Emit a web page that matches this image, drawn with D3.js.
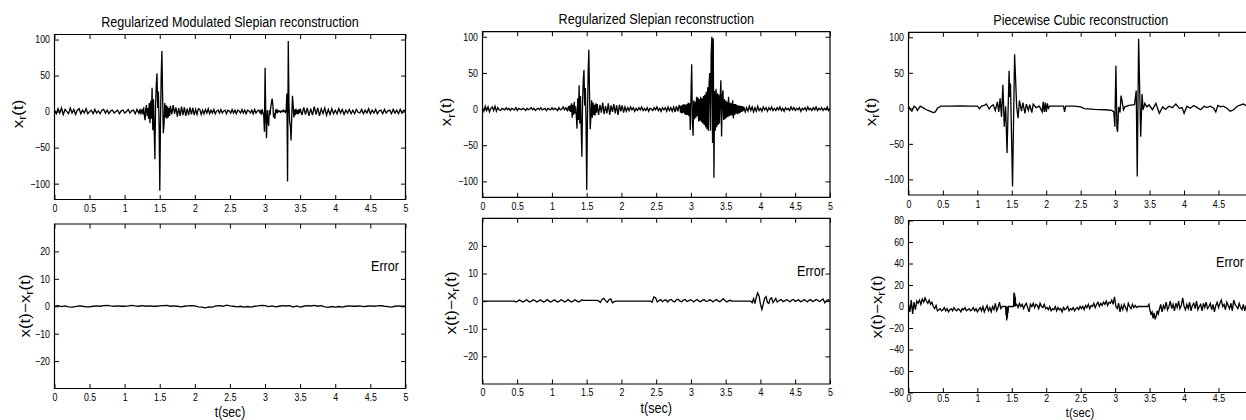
<!DOCTYPE html>
<html><head><meta charset="utf-8">
<script src="https://cdn.jsdelivr.net/npm/d3@7"></script>
<style>
html,body{margin:0;padding:0;background:#fff;overflow:hidden}
svg{display:block;overflow:hidden}
</style></head><body>
<svg id="chart" width="1246" height="420"></svg>
<script>
// ---------------- DATA ----------------
// Segment series: [startTime, step, [values...]]
const timeDomain = [0, 5];
const xTicks = [0, 0.5, 1, 1.5, 2, 2.5, 3, 3.5, 4, 4.5, 5];
const yTicksRec = [-100, -50, 0, 50, 100];
const yTicksErrSmall = [-20, -10, 0, 10, 20];
const yTicksErrCubic = [-80, -60, -40, -20, 0, 20, 40, 60, 80];

const titles = ["Regularized Modulated Slepian reconstruction", "Regularized Slepian reconstruction", "Piecewise Cubic reconstruction"];

const recModSlepian = [
  [0, 0.025, [2,-3,4,-2,5,-4,3,0,-3,5,-2,3,-4,2,4,-3,2,-2,4,-3,0,2,-3,3,-2,1,-3,2,3,-2,2,-3,1,2,-2,0,2,-3,1,2,-2,0,3,-2,1,2,-3,3,-2]],
  [1.21, 0.01, [1,-2,2,-1,3,-4,6,-5,-12,4,9,-6,5,-10,12,-16,15,-10,33,-26,17,-24,-66,10,38,53,5,28,-20,-110,-10,50,84,20,-30,-18,12,-8,9,-10,7,-8,5,-6,8]],
  [1.67, 0.02, [-4,9,-3,6,-7,5,-6,7,-5,6,-6,4,-5,6,-4,5,-5,3,-4,4,3,-4,2,-3,3,-2,4,-3,2,-2,3,-3,1,2,-2,3,-2,1,2,-3,2,1,-2,3,-2,2,-3,2,1,-2,3,-2,2,-3,2,1,-2,2,-3,3,-2,1,2,-2]],
  [2.94, 0.01, [1,-2,3,-2,-5,-28,61,-10,-37,2,-12,-20,2,-5,6,12,18,10,-8,-2,-10,3,-2,2,-1,1,0,1,-1,0,1,0,2,0,1,-1,2,25,-97,98,10,-15,-20,-40,-5,22,8,-8,3,-5,4,-3,2,-4,3,-2,4]],
  [3.525, 0.025, [-5,6,-4,5,-6,4,-5,7,-4,5,-6,4,-3,5,-5,3,-4,4,-3,2,-3,4,-2,3,-4,2,-2,3,-3,2,-3,3,-1,-2,3,-3,2,-2,4,-3,2,-2,3,-3,1,2,-3,3,-2,1,2,-3,3,-2,2,-3,3,-2,2,0]]
];

const errModSlepian = [
  [0, 0.05, [0,0.2,-0.1,0.1,-0.2,-0.3,-0.1,0.1,0,-0.2,-0.2,0,0.1,0,0.2,0.3,0.1,0,0.1,0,0,0.1,0.3,0.1,0,0.2,0,0.1,0,0,0.1,0.2,0.3,0,0.1,0,-0.2,0,0.1,0.2,0.1,-0.2,-0.3,-0.6,-0.2,-0.3,0.1,0.2,0,0.4,0.1,0,-0.2,0,-0.3,-0.1,-0.3,0,0.1,0.3,0.2,-0.1,0.1,-0.2,0,0.2,0.1,0.2,-0.3,0.1,-0.3,0,0.2,0.1,0.3,0,0.2,-0.2,-0.4,-0.1,-0.3,-0.1,-0.3,0,0.1,0,0,0.1,-0.1,0,0.1,0,0.1,0.2,0,-0.1,-0.3,0,0.1,0,0]]
];

const recSlepian = [
  [0, 0.02, [2,-3,4,-2,3,-4,1,3,-2,4,-3,2,-1,-2,1,0,-1,2,-1,1,-2,1,0,-1,2,-2,1,0,-1,1,0,-2,1,-1,0,2,-1,1,-2,0,1,-1,2,-1,0,1,-2,1,0,-1,2,-1,1,0,-2,2,-1,0,3,-1,2,-2,4]],
  [1.25, 0.01, [-3,5,-4,8,-12,6,-8,10,-6,4,-10,-27,15,-15,33,-20,18,-25,-66,10,40,54,5,29,-20,-112,-10,50,82,20,-28,-10,12,-12,9,-8,6,-9,8,-5,7]],
  [1.67, 0.02, [-8,6,-5,9,-7,4,-6,8,-8,5,-4,7,-6,5,-8,6,-3,5,-5,3,-3,2,-2,3,-1,2,-3,1,-2,2,-1,3,-2,1,-2,2,-3,1,0,-2,2,-1,3,-2,1,-3,2,-1,2,-3,3,-2,2,-3,3,-4,4,-3,5]],
  [2.84, 0.01, [4,-5,5,-6,6,-5,7,-7,6,-8,7,-8,9,-10,8,-29,20,62,-15,-37,12,-14,10,-12,17,-10,16,-17,14,-16,17,-18,15,-20,18,-22,20,-25,24,-28,30,-30,35,50,-30,75,100,-47,98,-95,25,-30,28,-25,22,-22,20,-20,15,40,-38,18,26,-15,14,-14,12,-12,10,-11,17,-10,9,-9,8,-9,12,-13,7,-8,7,-6,6,-7,5,-6,5,-5,4,-4,4,-3]],
  [3.76, 0.02, [3,-4,2,-3,4,-2,3,-4,2,-3,4,-2,1,-3,3,-1,2,-3,2,-1,3,-2,1,-2,2,-1,3,-2,1,-3,2,-1,1,-2,3,-1,2,-2,1,-1,2,-3,1,-1,2,-2,3,-1,1,-2,2,-1,3,-2,1,-1,2,-2,1,-1,3,-2,1]]
];

const errSlepian = [
  [0, 0.46, [0,0]],
  [0.48, 0.025, [-0.3,0,0.4,0.1,-0.3,0,0.5,0.1,-0.3,0,0.5,0.2,-0.3,0,0.5,0.1,-0.3,0,0.6,0.1,-0.3,0,0.5,0.1,-0.3,0,0.5,0.2,-0.3,0,0.6,0.1,-0.3,0,0.5,0.1,-0.3,0,0.5,0.3]],
  [1.47, 0.18, [0.3,0.3]],
  [1.67, 0.025, [0.1,-0.5,0.6,1.0,0.2,-0.4,0.5,0.8,-0.6,-0.2]],
  [1.92, 0.5, [0,0]],
  [2.44, 0.025, [-0.4,1.5,1.2,-0.3,0.2,0.6,-0.2,0.3,0.5,-0.3,0.4,0.6,0,-0.3,0.5,0.7,0,-0.2,0.4,0.6,-0.1,0.1,0.5,0.2,-0.3,0.3,0.6,0,-0.2,0.4,0.5,-0.1,0,0.5,0.3,-0.3,0.2,0.6,0.1,-0.2,0.3,0.9,0.2,-0.3,0.1,0.3,0]],
  [3.62, 0.23, [0,0]],
  [3.86, 0.02, [0,-0.6,0.9,-0.9,1.5,3.0,1.8,-1.2,-3.0,-1.0,1.0,1.6,-0.4,-0.8,0.9,1.2,-0.5,0.2,1.0,-0.3]],
  [4.275, 0.025, [0.3,0.6,-0.2,0.1,0.5,0.2,-0.3,0.4,0.6,-0.1,0.2,0.5,-0.2,0,0.6,0.2,-0.3,0.4,0.5,-0.1,0.1,0.6,0.3,-0.2,0.3,0.8,-0.6,0.2,0.5,0]]
];

// Piecewise cubic reconstruction: [time, value] pairs
const recPCubic = [[0,3],[0.03,-2],[0.05,-4],[0.08,3],[0.11,1],[0.13,-3],[0.17,3],[0.21,1],[0.26,-2],[0.31,-4],[0.36,-6],[0.39,-5],[0.42,0],[0.47,3],[0.6,3],[0.75,3.5],[0.9,3],[1.0,3],[1.03,-0.5],[1.06,3],[1.10,4],[1.13,6],[1.17,-1],[1.2,3],[1.23,5],[1.26,-3],[1.29,9],[1.31,-5],[1.33,14],[1.35,-12],[1.37,33],[1.39,-26],[1.41,3],[1.43,-63],[1.46,53],[1.47,16],[1.48,35],[1.51,-110],[1.54,76],[1.57,2],[1.59,-14],[1.61,11],[1.64,-4],[1.66,8],[1.69,-7],[1.71,6],[1.74,-3],[1.76,5],[1.79,-6],[1.81,6],[1.85,1],[1.90,3],[1.94,-5],[1.955,9],[1.97,-5],[1.985,8],[2.00,-5],[2.015,7],[2.03,0],[2.05,3],[2.2,3],[2.25,3],[2.265,-5],[2.28,3],[2.4,3],[2.5,2],[2.55,-0.5],[2.7,-1.5],[2.85,-2],[2.95,-3],[2.98,-5],[2.995,-26],[3.01,60],[3.025,-28],[3.035,-33],[3.05,2],[3.07,-6],[3.085,18],[3.10,10],[3.12,-2],[3.14,2],[3.2,4],[3.28,5],[3.305,25],[3.32,-96],[3.34,98],[3.37,-40],[3.39,20],[3.405,-2],[3.43,7],[3.46,2],[3.49,5],[3.54,-2],[3.59,7],[3.64,-7],[3.69,2],[3.73,-1.5],[3.78,3],[3.83,1],[3.88,6],[3.93,0],[3.97,1],[4.0,-7],[4.04,3],[4.09,0],[4.14,4],[4.19,1],[4.24,-2],[4.29,3],[4.33,1],[4.38,3],[4.43,0],[4.46,-5],[4.49,4],[4.53,2],[4.57,3],[4.62,0],[4.67,-4],[4.72,-2],[4.77,3],[4.86,6],[4.92,3],[5.0,2]];

const errPCubic = [
  [0, 0.02, [2,-5,6,-7,4,-3,5,3,6,2,7,4,8,5,3,6,2,4,0,-2,1,-4,-3,-2,-4,-3,-1,-4,-2,-5,-3,-2,-4,-1,-3,-4,-2,-3,-5,-2,-3,-1,-4,-3,-2,-4,-3,-1,-4,-2,-5,-3,-1,-4,0,-5,-2,1,-4,-1,-5,0,-3,3,-4,-1,4,-2]],
  [1.36, 0.05, [0,0]],
  [1.415, 0.005, [-8,0,-13,-2,-11,0,-6,0]],
  [1.46, 0.065, [0,0]],
  [1.53, 0.005, [13,2,12,0,9,1]],
  [1.57, 0.02, [2,-1,3,0,2,-2,1,3,-1,-5,2,0,3,-1,2,1,-2,3,0,-1,2,-2,-1,-3,0,-4,-2,-3,0,-4,-1,-3,-2,-5,-1,-3,-2,0,-4,-2,-3,-1,-4,-2,-1,-3,0,-2,0,-3,1,-1,2,-2,1,0,3,-1,2,4,0,3,1,4,2,5,1,4,3,6,2,9]],
  [3.01, 0.02, [0,-2,3,-5,1,-3,2,-1,-4,3,0,-2,2,-1,1,-1]],
  [3.33, 0.14, [0,0]],
  [3.49, 0.015, [2,-4,-7,-5,-11,-6,-12,-9,-4,-7]],
  [3.64, 0.02, [-3,2,-5,1,-2,4,-3,0,5,-2,2,-4,3,-1,5,-2,1,8,0,-3,2,-2,4,-4,1,3,-2,5,-3,0,2,-4,3,-1,4,-2,0,3,-3,2,-5,1,4,-1,3,6,0,2,-3,4,1,-2,3,-4,6,2,0,-2,3,-1,-3,2,-4,1,-6,-2,-5,-3,-5]]
];

// ---------------- LAYOUT ----------------
const SQ = 0.84;         // horizontal condensation of the original figure
const TICK = 4.5;
const W = 1246;
const FONT = '"Liberation Sans", Arial, Helvetica, sans-serif';

function expand(segs) {
  const pts = [];
  segs.forEach(([t0, dt, vals]) => vals.forEach((v, i) => pts.push([t0 + i * dt, v])));
  return pts;
}
const fmt = d => d < 0 ? "\u2212" + Math.abs(d) : String(d);

const columns = [
  { x0: 54.5, x1: 405.5, title: titles[0], titleY: 26.7,
    top: { y0: 34.5, y1: 199.5, data: expand(recModSlepian), yDomain: [-122, 107], yTicks: yTicksRec, lx: 18, ly: 114, pad: 5.2 },
    bot: { y0: 224, y1: 388.5, data: expand(errModSlepian), yDomain: [-30, 30], yTicks: yTicksErrSmall, lx: 25, ly: 306, ex: 399, ey: 271, tY: 416.8, tF: 14.5, pad: 5 } },
  { x0: 482.5, x1: 830, title: titles[1], titleY: 24,
    top: { y0: 31.7, y1: 197.3, data: expand(recSlepian), yDomain: [-122, 107], yTicks: yTicksRec, lx: 446.5, ly: 112, pad: 5.2 },
    bot: { y0: 218.3, y1: 384, data: expand(errSlepian), yDomain: [-30, 30], yTicks: yTicksErrSmall, lx: 451, ly: 303, ex: 825, ey: 276, tY: 413.5, tF: 15, pad: 5 } },
  { x0: 908.5, x1: 1253, title: titles[2], titleY: 25,
    top: { y0: 32.3, y1: 195, data: recPCubic, yDomain: [-122, 107], yTicks: yTicksRec, lx: 871, ly: 112, pad: 5.2 },
    bot: { y0: 220.5, y1: 392.5, data: expand(errPCubic), yDomain: [-80, 80], yTicks: yTicksErrCubic, lx: 877, ly: 307, ex: 1244, ey: 267, tY: 417, tF: 13.5, pad: 2.5 } }
];

const svg = d3.select("#chart");
svg.append("rect").attr("width", W).attr("height", 420).attr("fill", "#fff");
const root = svg.append("g").attr("transform", `scale(${SQ},1)`)
  .attr("font-family", FONT);

function yLabel(parent, lx, ly, pre) {
  const t = parent.append("text")
    .attr("transform", `translate(${lx / SQ},${ly}) rotate(-90)`)
    .attr("text-anchor", "middle").attr("font-size", 17).attr("fill", "#000");
  t.append("tspan").attr("dy", 5.5).text(pre + "x");
  t.append("tspan").attr("dy", 4.5).attr("font-size", 12.5).text("r");
  t.append("tspan").attr("dy", -4.5).text("(t)");
}

function plot(col, p, isBottom) {
  const x = d3.scaleLinear().domain(timeDomain).range([col.x0 / SQ, col.x1 / SQ]);
  const y = d3.scaleLinear().domain(p.yDomain).range([p.y1, p.y0]);
  const g = root.append("g");

  const line = d3.line().x(d => x(d[0])).y(d => y(d[1]));
  g.append("path").datum(p.data).attr("d", line)
    .attr("fill", "none").attr("stroke", "#000").attr("stroke-width", 1.3)
    .attr("vector-effect", "non-scaling-stroke");

  // x tick labels only for ticks that fall inside the picture
  const xFmt = d => (x(d) * SQ < W - 4 ? fmt(d) : "");
  const axes = [
    [d3.axisBottom(x).tickValues(xTicks).tickFormat(xFmt).tickSizeInner(-TICK).tickSizeOuter(0).tickPadding(p.pad), `translate(0,${p.y1})`],
    [d3.axisTop(x).tickValues(xTicks).tickFormat(() => "").tickSizeInner(-TICK).tickSizeOuter(0), `translate(0,${p.y0})`],
    [d3.axisLeft(y).tickValues(p.yTicks).tickFormat(fmt).tickSizeInner(-TICK / SQ).tickSizeOuter(0).tickPadding(4.5 / SQ), `translate(${col.x0 / SQ},0)`],
    [d3.axisRight(y).tickValues(p.yTicks).tickFormat(() => "").tickSizeInner(-TICK / SQ).tickSizeOuter(0), `translate(${col.x1 / SQ},0)`]
  ];
  axes.forEach(([ax, tr]) => {
    const a = g.append("g").attr("transform", tr).call(ax);
    a.attr("font-family", FONT).attr("font-size", 10.5);
    a.select(".domain").remove();
    a.selectAll("line").attr("stroke", "#000").attr("stroke-width", 1).attr("vector-effect", "non-scaling-stroke");
    a.selectAll("text").attr("fill", "#000");
    a.selectAll("text").filter(function () { return this.textContent === ""; }).remove();
  });

  g.append("rect").attr("x", col.x0 / SQ).attr("y", p.y0)
    .attr("width", (col.x1 - col.x0) / SQ).attr("height", p.y1 - p.y0)
    .attr("fill", "none").attr("stroke", "#000").attr("stroke-width", 1.2)
    .attr("vector-effect", "non-scaling-stroke");

  yLabel(g, p.lx, p.ly, isBottom ? "x(t)\u2212" : "");

  if (isBottom) {
    g.append("text").attr("x", p.ex / SQ).attr("y", p.ey).attr("text-anchor", "end")
      .attr("font-size", 15).attr("fill", "#000").text("Error");
    const cx = Math.min((col.x0 + col.x1) / 2, 1080);
    g.append("text").attr("x", cx / SQ).attr("y", p.tY).attr("text-anchor", "middle")
      .attr("font-size", p.tF).attr("fill", "#000").text("t(sec)");
  }
}

columns.forEach(col => {
  root.append("text").attr("x", (col.x0 + col.x1) / 2 / SQ).attr("y", col.titleY)
    .attr("text-anchor", "middle").attr("font-size", 15).attr("fill", "#000").text(col.title);
  plot(col, col.top, false);
  plot(col, col.bot, true);
});
</script>
</body></html>
